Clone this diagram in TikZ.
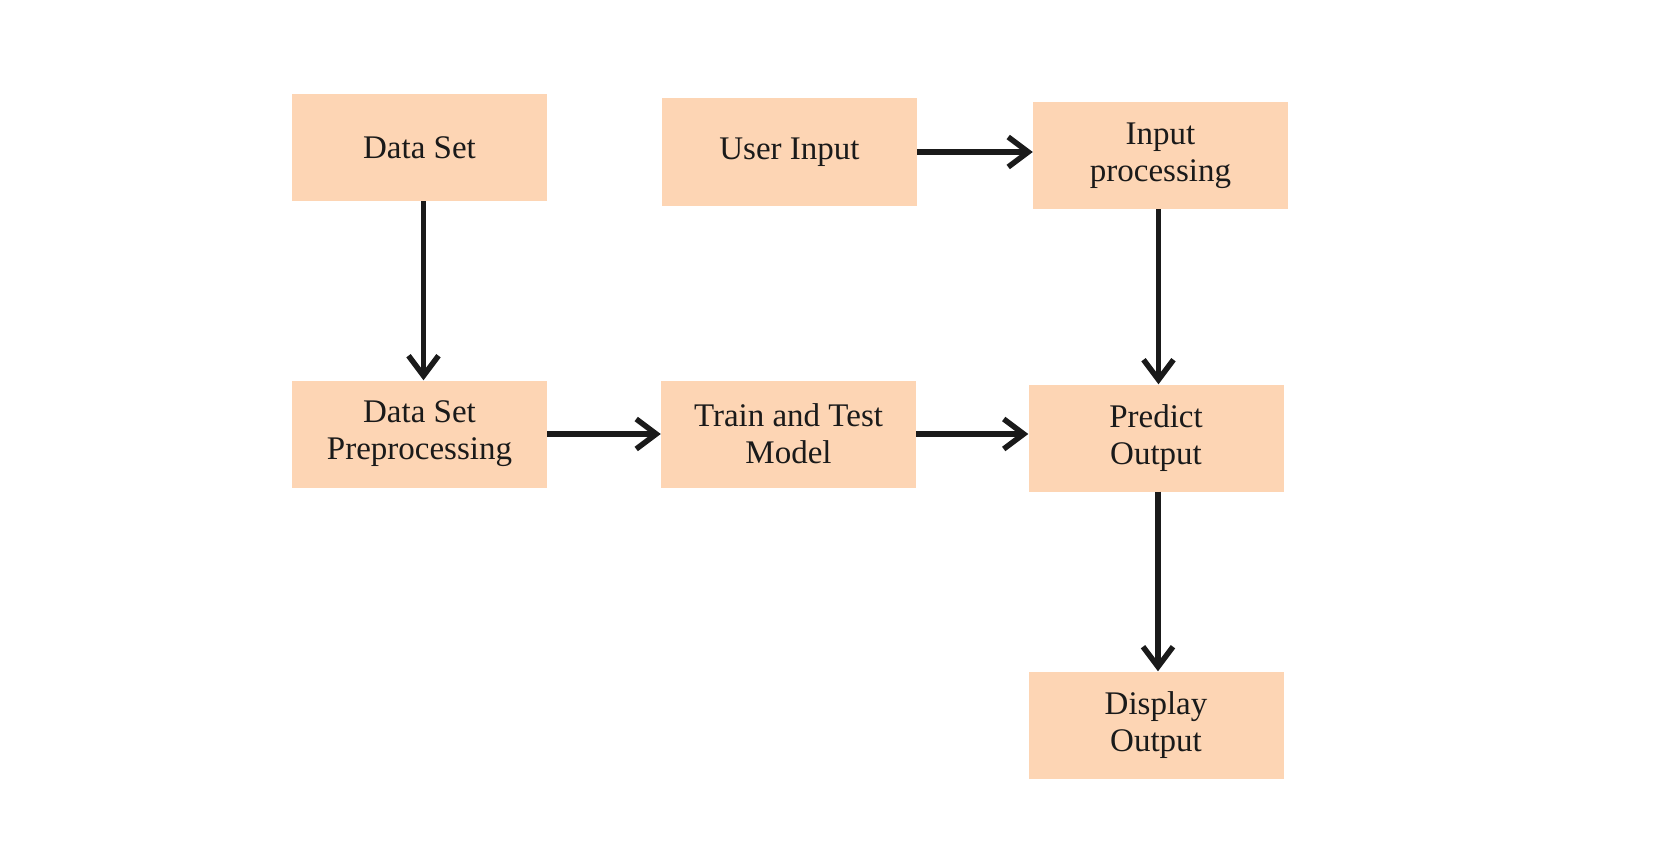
\documentclass[tikz,border=0pt]{standalone}
\usepackage{fontspec}
\setmainfont{Liberation Serif}
\usetikzlibrary{arrows.meta}
\usetikzlibrary{positioning}
\definecolor{peach}{HTML}{FDD5B4}
\definecolor{ink}{HTML}{1A1A1A}

\begin{document}
\begin{tikzpicture}[x=1pt,y=-1pt,
  box/.style={fill=peach,minimum width=255pt,minimum height=107pt,inner sep=0pt,
    align=center,text=ink,font=\fontsize{33}{37}\selectfont},
  flow/.style={ink,line width=5.5pt,-{Straight Barb[length=20pt,width=30pt]}}]
  \useasboundingbox (0,0) rectangle (1677,856);

  \node[box] (data) at (419.5,147.5) {Data Set};
  \node[box] (user) at (789.5,152) {User Input};
  \node[box] (inproc) at (1160.5,155.5) {Input\\ processing};

  \node[box] (prep) at (419.5,434) {Data Set\\Preprocessing};
  \node[box] (train) at (788.5,434) {Train and Test\\Model};
  \node[box] (predict) at (1156,438) {Predict\\Output};

  \node[box] (display) at (1156,725) {Display\\Output};

  \draw[flow]([xshift=4pt]data.south)--([xshift=4pt]prep.north);
  \draw[flow](user.east)--(user.east -| inproc.west);
  \draw[flow]([xshift=-2pt]inproc.south)--([xshift=-2pt]inproc.south |- predict.north);
  \draw[flow](prep.east)--(train.west);
  \draw[flow](train.east)--(train.east -| predict.west);
  \draw[flow]([xshift=2pt]predict.south)--([xshift=2pt]display.north);
\end{tikzpicture}
\end{document}
